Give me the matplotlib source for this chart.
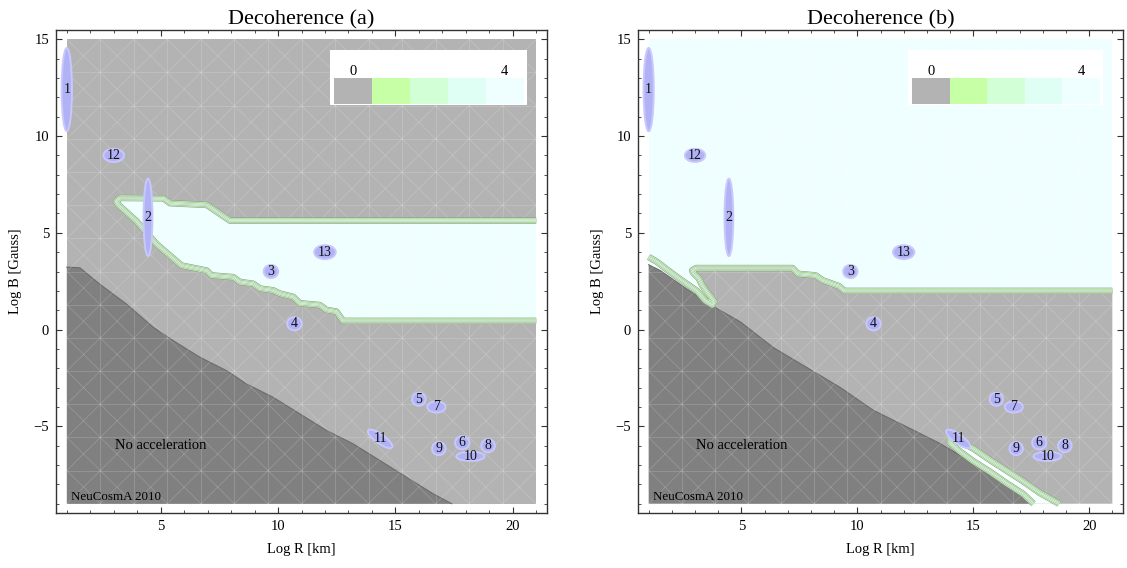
import numpy as np
import matplotlib
matplotlib.use('Agg')
import matplotlib.pyplot as plt
from matplotlib.patches import Ellipse, Rectangle

plt.rcParams['font.family'] = ['Liberation Serif', 'DejaVu Serif']

# plot range of the data region
x_rng = [1.0, 21.0]
y_rng = [-9.0, 15.0]

# "no acceleration" region boundary (panel a / panel b)
dark_a_x = [1.0, 1.56, 2.41, 3.55, 4.68, 5.53, 6.67, 7.8, 8.66, 9.79, 10.92, 12.06, 13.19, 14.33, 15.46, 16.6, 17.4]
dark_a_y = [3.23, 3.19, 2.34, 1.31, 0.12, -0.57, -1.43, -2.12, -2.81, -3.5, -4.35, -5.21, -5.9, -6.76, -7.62, -8.48, -9.0]
dark_b_x = [1.0, 1.5, 2.4, 3.4, 4.0, 4.95, 6.39, 7.82, 9.26, 10.7, 12.14, 13.57, 15.0, 16.45, 17.2, 17.45]
dark_b_y = [3.35, 3.05, 2.3, 1.5, 1.05, 0.4, -0.94, -1.96, -2.99, -4.18, -5.03, -5.89, -6.91, -8.11, -8.7, -9.0]

# panel (a): decoherence region
a_top_x = [21.0, 7.95, 7.38, 6.96, 5.40, 5.11, 3.27, 3.1]
a_top_y = [5.63, 5.63, 6.10, 6.44, 6.53, 6.78, 6.80, 6.62]
a_bot_x = [3.1, 3.2, 3.98, 4.83, 5.89, 6.96, 7.17, 8.09, 8.38, 8.94, 9.23, 9.79, 10.08, 10.65, 10.93, 11.78, 12.06, 12.49, 12.77, 21.0]
a_bot_y = [6.62, 6.44, 5.59, 4.41, 3.31, 3.05, 2.80, 2.71, 2.46, 2.37, 2.12, 2.03, 1.86, 1.69, 1.36, 1.27, 1.02, 0.93, 0.45, 0.45]

# panel (b): edge of the grey region and ridge along the dark region
b_top_x = [21.0, 9.45, 9.2, 8.5, 8.2, 7.45, 7.2, 3.05, 2.87, 2.94, 3.16, 3.30, 3.44, 3.66, 3.83]
b_top_y = [2.0, 2.0, 2.25, 2.55, 2.8, 2.88, 3.18, 3.18, 3.05, 2.9, 2.65, 2.30, 2.05, 1.71, 1.45]
b_ridge_x = [3.83, 3.75, 3.44, 3.08, 2.36, 1.79, 1.36, 1.0]
b_ridge_y = [1.45, 1.27, 1.5, 2.0, 2.6, 3.1, 3.5, 3.75]
# panel (b): strip at the bottom right
strip_up_x = [14.0, 14.43, 15.0, 15.73, 16.45, 17.16, 17.88, 18.7]
strip_up_y = [-5.5, -5.8, -6.15, -6.75, -7.3, -7.85, -8.45, -9.0]
strip_lo_x = [14.0, 14.43, 15.0, 15.73, 16.45, 17.16, 17.6]
strip_lo_y = [-5.85, -6.3, -6.8, -7.35, -7.95, -8.5, -9.0]

# sources
src_labels = ['1', '2', '3', '4', '5', '6', '7', '8', '9', '10', '11', '12', '13']
src_x = [1.0, 4.46, 9.7, 10.7, 16.0, 17.85, 16.75, 18.95, 16.85, 18.2, 14.35, 3.0, 12.0]
src_y = [12.4, 5.8, 3.0, 0.3, -3.6, -5.85, -4.0, -6.0, -6.15, -6.55, -5.65, 9.0, 4.0]
src_w = [0.44, 0.38, 0.62, 0.62, 0.58, 0.62, 0.78, 0.58, 0.58, 1.2, 1.35, 0.88, 0.92]
src_h = [4.3, 4.0, 0.68, 0.68, 0.68, 0.68, 0.58, 0.68, 0.68, 0.48, 0.44, 0.68, 0.72]
src_ang = [0, 0, 0, 0, 0, 0, 0, 0, 0, 0, -42, 0, 0]

# legend
leg_colors = ['#b3b3b3', '#c6ffa6', '#d2ffd6', '#e0fff4', '#efffff']
leg_ticks = ['0', '4']
leg_box = [12.2, 20.6, 11.58, 14.46]
leg_sw = [12.37, 20.46, 11.66, 12.98]

GREY = '#b3b3b3'
DARK = '#808080'
CYAN = '#efffff'


def band(ax, xs, ys):
    specs = [(4.6, '#8d9a8d'), (3.8, '#c4fca2'), (2.8, '#9fb09f'), (2.1, '#d6fed4'), (1.1, '#aabcaa'), (0.5, '#e2fff0')]
    for lw, c in specs:
        ax.plot(xs, ys, color=c, lw=lw, solid_joinstyle='round', solid_capstyle='butt', zorder=3)


def mesh(ax, n=14):
    u = np.linspace(x_rng[0], x_rng[1], n + 1)
    v = np.linspace(y_rng[0], y_rng[1], n + 1)
    kw = dict(color='white', alpha=0.18, lw=0.6, zorder=2)
    for x in u[1:-1]:
        ax.plot([x, x], y_rng, **kw)
    for y in v[1:-1]:
        ax.plot(x_rng, [y, y], **kw)
    for k in range(-n + 1, n):
        i = np.arange(max(0, -k), min(n, n - k) + 1)
        ax.plot(u[i], v[i + k], **kw)
        j = np.arange(max(0, k), min(n, n + k) + 1)
        ax.plot(u[j], v[n - j + k], **kw)


def dark_region(ax, xs, ys):
    ax.fill([x_rng[0]] + xs, [y_rng[0]] + ys, color=DARK, lw=0, zorder=1.5)
    ax.plot(xs, ys, color='#6c6c6c', lw=0.8, zorder=1.6)


def common(ax, title):
    mesh(ax)
    for lab, x, y, w, h, a in zip(src_labels, src_x, src_y, src_w, src_h, src_ang):
        ax.add_patch(Ellipse((x, y), w, h, angle=a, facecolor='#b1b1f6', edgecolor='#c8c8fc', lw=1.4, zorder=4))
        ax.text(x, y, lab, ha='center', va='center', fontsize=10, color='#111111', zorder=5)
    ax.text(5.0, -6.0, 'No acceleration', ha='center', va='center', fontsize=10.5, zorder=5)
    ax.text(1.2, -8.63, 'NeuCosmA 2010', ha='left', va='center', fontsize=9.4, zorder=5)
    # legend
    ax.add_patch(Rectangle((leg_box[0], leg_box[2]), leg_box[1] - leg_box[0], leg_box[3] - leg_box[2],
                           facecolor='white', edgecolor='none', zorder=6))
    edges = np.linspace(leg_sw[0], leg_sw[1], len(leg_colors) + 1)
    for c, x0, x1 in zip(leg_colors, edges[:-1], edges[1:]):
        ax.add_patch(Rectangle((x0, leg_sw[2]), x1 - x0, leg_sw[3] - leg_sw[2], facecolor=c, edgecolor='none', zorder=7))
    ax.text((edges[0] + edges[1]) / 2, 13.35, leg_ticks[0], ha='center', va='center', fontsize=10.5, zorder=8)
    ax.text((edges[-2] + edges[-1]) / 2, 13.35, leg_ticks[1], ha='center', va='center', fontsize=10.5, zorder=8)

    ax.set_xlim(0.54, 21.46)
    ax.set_ylim(-9.48, 15.48)
    ax.set_xticks([5, 10, 15, 20])
    ax.set_xticks(range(1, 22), minor=True)
    ax.set_yticks([-5, 0, 5, 10, 15])
    ax.set_yticks(range(-9, 16), minor=True)
    ax.tick_params(which='both', direction='in', top=True, right=True, labelsize=10.5, pad=5, color='#333333')
    ax.tick_params(which='major', length=4.5, width=0.8)
    ax.tick_params(which='minor', length=2.3, width=0.6)
    for s in ax.spines.values():
        s.set_color('#333333')
        s.set_linewidth(1.0)
    ax.set_xlabel('Log R [km]', fontsize=10.5, labelpad=7)
    ax.set_ylabel('Log B [Gauss]', fontsize=10.5, labelpad=8)
    ax.set_title(title, fontsize=16, pad=4)


fig = plt.figure(figsize=(11.27, 5.68), dpi=100)
ax1 = fig.add_axes([56 / 1127, 55 / 568, 491 / 1127, 483 / 568])
ax2 = fig.add_axes([638 / 1127, 55 / 568, 485 / 1127, 483 / 568])

# panel (a)
ax1.fill([x_rng[0], x_rng[1], x_rng[1], x_rng[0]], [y_rng[0], y_rng[0], y_rng[1], y_rng[1]], color=GREY, lw=0, zorder=1)
ax1.fill(a_top_x + a_bot_x, a_top_y + a_bot_y, color=CYAN, lw=0, zorder=1.2)
dark_region(ax1, dark_a_x, dark_a_y)
band(ax1, a_top_x + a_bot_x, a_top_y + a_bot_y)
common(ax1, 'Decoherence (a)')

# panel (b)
ax2.fill([x_rng[0], x_rng[1], x_rng[1], x_rng[0]], [y_rng[0], y_rng[0], y_rng[1], y_rng[1]], color=CYAN, lw=0, zorder=1)
ax2.fill(b_top_x + [b_top_x[-1], x_rng[1]], b_top_y + [y_rng[0], y_rng[0]], color=GREY, lw=0, zorder=1.2)
ax2.fill(strip_up_x + strip_lo_x[::-1], strip_up_y + strip_lo_y[::-1], color='#f8ffff', lw=0, zorder=1.3)
dark_region(ax2, dark_b_x, dark_b_y)
band(ax2, b_top_x + b_ridge_x, b_top_y + b_ridge_y)
band(ax2, strip_up_x[::-1] + strip_lo_x, strip_up_y[::-1] + strip_lo_y)
common(ax2, 'Decoherence (b)')

fig.savefig('out.png', dpi=100)
